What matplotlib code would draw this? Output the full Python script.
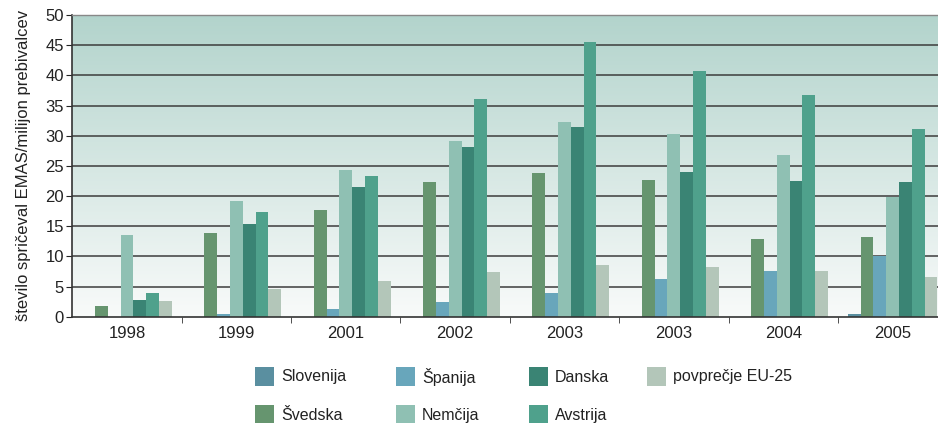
import numpy as np
import matplotlib.pyplot as plt
from matplotlib.patches import Rectangle

plt.rcParams['font.family'] = ['Liberation Sans', 'DejaVu Sans']

leta = ['1998', '1999', '2001', '2002', '2003', '2003', '2004', '2005']

# vrednosti odčitane s slike (število spričeval EMAS / milijon prebivalcev)
slovenija = [0, 0, 0, 0, 0, 0, 0, 0.45]
svedska = [1.8, 13.9, 17.7, 22.3, 23.8, 22.6, 12.9, 13.2]
spanija = [0, 0.45, 1.3, 2.4, 3.9, 6.3, 7.6, 10.1]
nemcija = [13.5, 19.2, 24.3, 29.1, 32.3, 30.3, 26.8, 19.8]
danska = [2.8, 15.4, 21.5, 28.1, 31.5, 24.0, 22.5, 22.3]
avstrija = [3.9, 17.4, 23.3, 36.1, 45.6, 40.7, 36.8, 31.1]
eu25 = [2.6, 4.6, 5.9, 7.4, 8.6, 8.3, 7.6, 6.6]

serije = [
    ('Slovenija', slovenija, '#5a8fa0'),
    ('Švedska', svedska, '#66956f'),
    ('Španija', spanija, '#68a6bb'),
    ('Nemčija', nemcija, '#8fc0b3'),
    ('Danska', danska, '#3a8474'),
    ('Avstrija', avstrija, '#4fa18c'),
    ('povprečje EU-25', eu25, '#b3c6b9'),
]

W, H = 938, 423
fig = plt.figure(figsize=(W / 100, H / 100), dpi=100)
ax = fig.add_axes([72.3 / W, (H - 316.7) / H, 875 / W, 301.7 / H])

x = np.arange(len(leta))
w = 0.117
n = len(serije)

# ozadje z gradientom
grad = np.linspace(0, 1, 256).reshape(-1, 1)
top = np.array([0.70, 0.83, 0.80])
bot = np.array([0.975, 0.982, 0.98])
img = top[None, None, :] * (1 - grad[:, :, None]) + bot[None, None, :] * grad[:, :, None]
ax.imshow(img, extent=[-0.5, 7.5, 0, 50], aspect='auto', zorder=0, origin='upper')

for yv in range(5, 50, 5):
    ax.axhline(yv, color='#3c3c3c', lw=1.1, zorder=1)

for i, (ime, vals, barva) in enumerate(serije):
    ax.bar(x + (i - (n - 1) / 2) * w, vals, width=w, color=barva, zorder=2)

ax.set_xlim(-0.5, 7.5)
ax.set_ylim(0, 50)
ax.set_yticks(range(0, 51, 5))
ax.set_xticks(x)
ax.set_xticklabels(leta)
ax.set_xticks(np.arange(0.5, 7.5, 1), minor=True)
ax.tick_params(axis='x', which='major', length=0, pad=7, labelsize=12, colors='#222222')
ax.tick_params(axis='x', which='minor', length=4, color='#333333')
ax.tick_params(axis='y', length=4, labelsize=12, colors='#222222', pad=2)

for s in ['left', 'bottom']:
    ax.spines[s].set_color('#333333')
    ax.spines[s].set_linewidth(1.2)
ax.spines['top'].set_color('#888888')
ax.spines['top'].set_linewidth(1.0)
ax.spines['right'].set_visible(False)

ax.set_ylabel('število spričeval EMAS/milijon prebivalcev', fontsize=12, color='#222222', labelpad=10)

# legenda: dve vrstici, stolpci kot na izvirniku
stolpci_x = [255, 396, 529, 647]
vrstice_y = [367, 405]
for i, (ime, vals, barva) in enumerate(serije):
    cx = stolpci_x[i // 2]
    cy = vrstice_y[i % 2]
    fig.add_artist(Rectangle((cx / W, 1 - (cy + 19) / H), 19 / W, 19 / H,
                             transform=fig.transFigure, facecolor=barva, edgecolor='none'))
    fig.text((cx + 26) / W, 1 - (cy + 10) / H, ime, fontsize=11.5, color='#222222',
             va='center', ha='left')

fig.savefig('out.png', dpi=100)
